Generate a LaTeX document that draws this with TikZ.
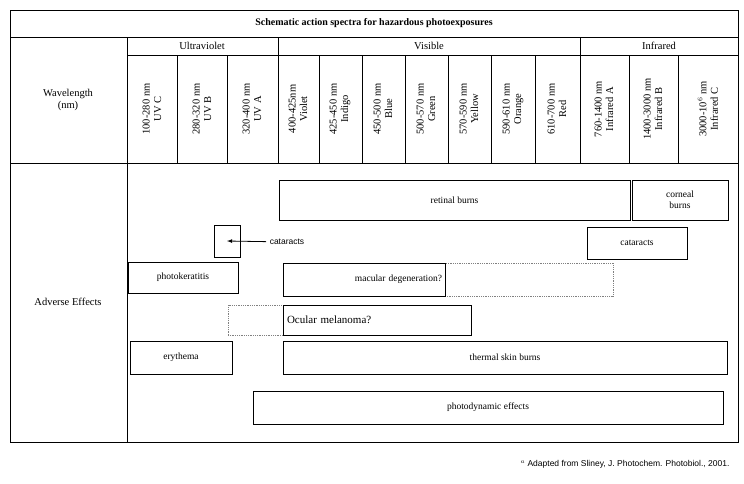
\documentclass[tikz,border=0pt]{standalone}
\usepackage{fontspec}
\setmainfont{Liberation Serif}
\newfontfamily\arialfont{Liberation Sans}
\tikzset{effect/.style={draw,thick,inner sep=0pt,font=\fontsize{9.5}{11}\selectfont},
         guess/.style={draw,densely dotted,thick,gray},
         band/.style={rotate=90,align=center,font=\fontsize{10.5}{11.5}\selectfont}}
\begin{document}
\begin{tikzpicture}[x=1pt,y=-1pt]
        \useasboundingbox (0,0) rectangle (744,483);
        % frame of the table
        \draw[thick] (10,10) rectangle (738,442);
        \draw (10,37) -- (738,37);
        \draw (127,55) -- (738,55);
        \draw (10,163) -- (738,163);
        \draw (127,37) -- (127,442);
        \foreach \x in {278,580} \draw (\x,37) -- (\x,163);
        \foreach \x in {177,227,319,362,405,448,491,535,629,678} \draw (\x,55) -- (\x,163);

        \node[font=\bfseries\fontsize{10}{12}\selectfont] (title) at (374,23) {Schematic action spectra for hazardous photoexposures};
        \node[font=\fontsize{10.5}{12}\selectfont] (uv) at (202,46) {Ultraviolet};
        \node[font=\fontsize{10.5}{12}\selectfont] (vis) at (429,46) {Visible};
        \node[font=\fontsize{10.5}{12}\selectfont] (ir) at (659,46) {Infrared};
        \node[align=center,font=\fontsize{10.5}{12.5}\selectfont] (wl) at (68,100) {Wavelength\\(nm)};
        \node[font=\fontsize{10.5}{12}\selectfont] (ae) at (68,302) {Adverse Effects};

        % wavelength bands
        \foreach \x/\t [count=\i] in {152/{100-280 nm\\UV C},202/{280-320 nm\\UV B},252/{320-400 nm\\UV A},
            298/{400-425nm\\Violet},340/{425-450 nm\\Indigo},383/{450-500 nm\\Blue},426/{500-570 nm\\Green},
            469/{570-590 nm\\Yellow},513/{590-610 nm\\Orange},557/{610-700 nm\\Red},
            604/{760-1400 nm\\Infrared A},653/{1400-3000 nm\\Infrared B},708/{3000-10$^6$ nm\\Infrared C}}
            \node[band] (b\i) at (\x,109) {\t};

        % adverse effects
        \node[effect,minimum width=351,minimum height=40] (retina) at (454.5,200) {retinal burns};
        \node[effect,minimum width=96,minimum height=40,align=center] (cornea) at (680,200) {corneal\\burns};
        \node[effect,minimum width=26,minimum height=32] (uvbox) at (227,241) {};
        \node[font=\arialfont\fontsize{8.5}{10}\selectfont] (cat) at (287,242) {cataracts};
        \draw[-latex,thick] (cat) -- (uvbox.center);
        \node[effect,minimum width=100,minimum height=32] (catir) at (637,243) {cataracts};
        \node[effect,minimum width=110,minimum height=31] (kerat) at (183,277.5) {photokeratitis};
        \node[guess,minimum width=168,minimum height=33] (macdot) at (529,279.5) {};
        \node[effect,minimum width=162,minimum height=33,align=right,text width=156] (mac) at (364,279.5) {macular degeneration?};
        \node[guess,minimum width=55,minimum height=30] (meldot) at (255.5,320) {};
        \node[effect,minimum width=188,minimum height=30,align=left,text width=180,font=\fontsize{11}{12}\selectfont] (mel) at (377,320) {Ocular melanoma?};
        \node[effect,minimum width=102,minimum height=33] (ery) at (181,357.5) {erythema};
        \node[effect,minimum width=444,minimum height=33] (therm) at (505,357.5) {thermal skin burns};
        \node[effect,minimum width=470,minimum height=33] (photo) at (488,407.5) {photodynamic effects};

        \node[anchor=east,font=\arialfont\fontsize{8.5}{10}\selectfont] (note) at (733,464) {$^{a}$ Adapted from Sliney, J. Photochem. Photobiol., 2001.};
\end{tikzpicture}
\end{document}
